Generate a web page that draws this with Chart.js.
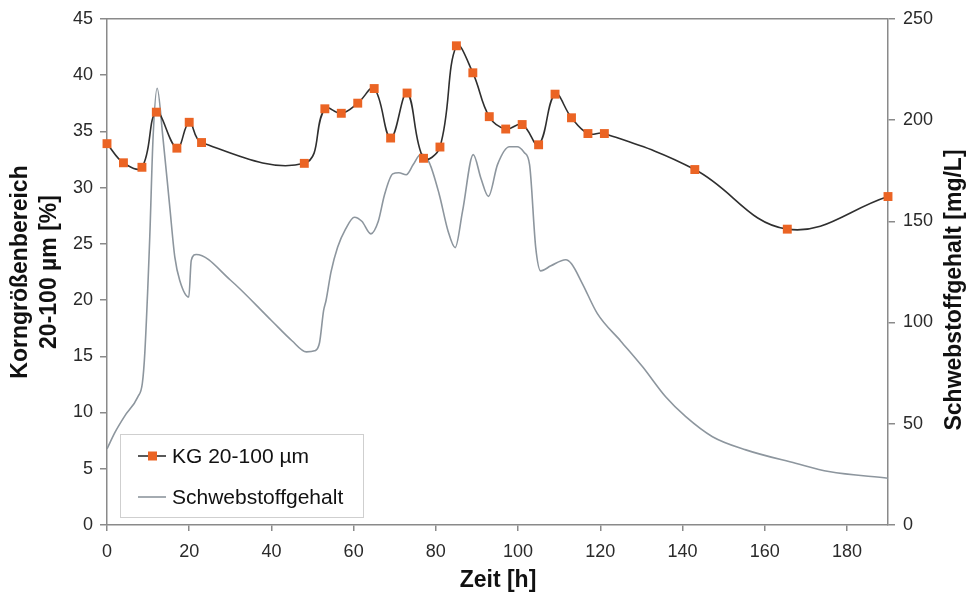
<!DOCTYPE html>
<html>
<head>
<meta charset="utf-8">
<script src="https://cdn.jsdelivr.net/npm/chart.js@4.4.1/dist/chart.umd.min.js"></script>
<style>
  html, body { margin: 0; padding: 0; background: #fff; }
  canvas { display: block; }
</style>
</head>
<body>
<canvas id="chart" width="969" height="599"></canvas>
<script>
// Korngrößenanteil 20-100 µm (linke Achse)
const kgHours = [0, 4, 8.5, 12, 17, 20, 23, 48, 53, 57, 61, 65, 69, 73, 77, 81, 85, 89, 93, 97, 101, 105, 109, 113, 117, 121, 143, 165.5, 190];
const kgValues = [33.9, 32.2, 31.8, 36.7, 33.5, 35.8, 34.0, 32.15, 37.0, 36.6, 37.5, 38.8, 34.4, 38.4, 32.6, 33.6, 42.6, 40.2, 36.3, 35.2, 35.6, 33.8, 38.3, 36.2, 34.8, 34.8, 31.6, 26.3, 29.2];

// Schwebstoffgehalt in mg/L (rechte Achse)
const ssHours = [0, 2, 4.3, 7.5, 8.6, 9.2, 10.4, 11.2, 12.2, 13.6, 15.2, 16.5, 17.7, 19.9, 20.5, 21.7, 30, 40, 45, 48.5, 50.5, 51.7, 52.7, 53.3, 54.5, 56.1, 58, 60.2, 62, 64.2, 66, 67.5, 69.5, 71, 72.8, 74.5, 76.4, 78.4, 80.8, 83, 84.7, 86.5, 89.1, 91, 92.8, 95, 97.9, 99.8, 101.5, 102.8, 104.3, 105.5, 108, 111.6, 113, 115.7, 119.3, 125, 130.3, 135.9, 140.8, 147.3, 155.4, 167.5, 175.6, 190];
const ssValues = [37.6, 46, 53.8, 63.3, 70, 85, 142, 191, 215.7, 191.4, 158.6, 132.3, 120.8, 112.6, 130.7, 133.6, 121, 101, 91, 85.5, 86, 90, 106, 111, 125, 137.2, 146, 152, 150, 143.8, 150, 163, 173.4, 174, 173, 178, 183.2, 179, 163.5, 145, 137, 155, 182.9, 171, 162.3, 178, 186.8, 186.8, 184, 178, 137, 125.5, 128, 131, 129, 119, 104.4, 90.8, 78.1, 63.3, 53.5, 43.6, 37.1, 30.5, 26.4, 23.1];

const xTicks = { min: 0, max: 190, step: 20 };
const leftTicks = { min: 0, max: 45, step: 5 };
const rightTicks = { min: 0, max: 250, step: 50 };

const ORANGE = '#EB6424';
const DARK = '#2f2f2f';
const GREY_LINE = '#8d969e';
const AXIS = '#8a8a8a';
const TEXT = '#2a2a2a';
const FONT = "'Liberation Sans', Arial, sans-serif";

const toPoints = (xs, ys) => xs.map((x, i) => ({ x: x, y: ys[i] }));

// top edge of the plot frame
const frameTop = {
  id: 'frameTop',
  beforeDatasetsDraw(chart) {
    const { ctx, chartArea: a } = chart;
    ctx.save();
    ctx.strokeStyle = AXIS;
    ctx.lineWidth = 1.5;
    ctx.beginPath();
    ctx.moveTo(a.left, a.top);
    ctx.lineTo(a.right, a.top);
    ctx.stroke();
    ctx.restore();
  }
};

// axis titles
const axisTitles = {
  id: 'axisTitles',
  afterDraw(chart) {
    const ctx = chart.ctx;
    ctx.save();
    ctx.fillStyle = '#111';
    ctx.font = "bold 23px " + FONT;
    ctx.textAlign = 'center';
    ctx.textBaseline = 'middle';
    ctx.fillText('Zeit [h]', 498, 581);

    ctx.translate(21, 272);
    ctx.rotate(-Math.PI / 2);
    ctx.fillText('Korngrößenbereich', 0, 0);
    ctx.fillText('20-100 µm [%]', 0, 29);
    ctx.restore();

    ctx.save();
    ctx.fillStyle = '#111';
    ctx.font = "bold 23px " + FONT;
    ctx.textAlign = 'center';
    ctx.textBaseline = 'middle';
    ctx.translate(955, 290);
    ctx.rotate(-Math.PI / 2);
    ctx.fillText('Schwebstoffgehalt [mg/L]', 0, 0);
    ctx.restore();
  }
};

// legend box inside the plot area
const legendBox = {
  id: 'legendBox',
  afterDraw(chart) {
    const ctx = chart.ctx;
    const box = { x: 120, y: 434, w: 243, h: 83 };
    ctx.save();
    ctx.fillStyle = '#fff';
    ctx.fillRect(box.x, box.y, box.w, box.h);
    ctx.strokeStyle = '#cfcfcf';
    ctx.lineWidth = 1;
    ctx.strokeRect(box.x + 0.5, box.y + 0.5, box.w, box.h);

    const rows = chart.data.datasets.map((ds, i) => ({ ds, y: 456 + i * 41 }));
    rows.forEach(({ ds, y }) => {
      ctx.strokeStyle = ds.borderColor;
      ctx.lineWidth = ds.borderWidth;
      ctx.beginPath();
      ctx.moveTo(138, y);
      ctx.lineTo(166, y);
      ctx.stroke();
      if (ds.pointRadius > 0) {
        ctx.fillStyle = ds.pointBackgroundColor;
        ctx.fillRect(148, y - 4.5, 9, 9);
      }
      ctx.fillStyle = '#111';
      ctx.font = "21px " + FONT;
      ctx.textAlign = 'left';
      ctx.textBaseline = 'middle';
      ctx.fillText(ds.label, 172, y + 1);
    });
    ctx.restore();
  }
};

new Chart(document.getElementById('chart'), {
  type: 'line',
  data: {
    datasets: [
      {
        label: 'KG 20-100 µm',
        data: toPoints(kgHours, kgValues),
        yAxisID: 'y',
        borderColor: DARK,
        borderWidth: 1.6,
        tension: 0.4,
        pointStyle: 'rect',
        pointRadius: 6.3,
        pointBackgroundColor: ORANGE,
        pointBorderWidth: 0,
        clip: false,
        order: 0
      },
      {
        label: 'Schwebstoffgehalt',
        data: toPoints(ssHours, ssValues),
        yAxisID: 'y1',
        borderColor: GREY_LINE,
        borderWidth: 1.6,
        cubicInterpolationMode: 'monotone',
        pointRadius: 0,
        order: 1
      }
    ]
  },
  options: {
    responsive: false,
    animation: false,
    devicePixelRatio: 1,
    layout: { padding: { top: 18, left: 0, right: 0, bottom: 0 } },
    plugins: { legend: { display: false }, tooltip: { enabled: false } },
    scales: {
      x: {
        type: 'linear',
        min: xTicks.min,
        max: xTicks.max,
        afterFit: s => { s.height = 74; },
        grid: { drawOnChartArea: false, drawTicks: true, tickLength: 6, color: AXIS, lineWidth: 1.5 },
        border: { display: true, color: AXIS, width: 1.5 },
        ticks: { stepSize: xTicks.step, includeBounds: false, padding: 10, color: TEXT, font: { family: FONT, size: 18 } }
      },
      y: {
        position: 'left',
        min: leftTicks.min,
        max: leftTicks.max,
        afterFit: s => { s.width = 107; },
        grid: { drawOnChartArea: false, drawTicks: true, tickLength: 7, color: AXIS, lineWidth: 1.5 },
        border: { display: true, color: AXIS, width: 1.5 },
        ticks: { stepSize: leftTicks.step, padding: 7, color: TEXT, font: { family: FONT, size: 18 } }
      },
      y1: {
        position: 'right',
        min: rightTicks.min,
        max: rightTicks.max,
        afterFit: s => { s.width = 81; },
        grid: { drawOnChartArea: false, drawTicks: true, tickLength: 7, color: AXIS, lineWidth: 1.5 },
        border: { display: true, color: AXIS, width: 1.5 },
        ticks: { stepSize: rightTicks.step, padding: 8, color: TEXT, font: { family: FONT, size: 18 } }
      }
    }
  },
  plugins: [frameTop, axisTitles, legendBox]
});
</script>
</body>
</html>
